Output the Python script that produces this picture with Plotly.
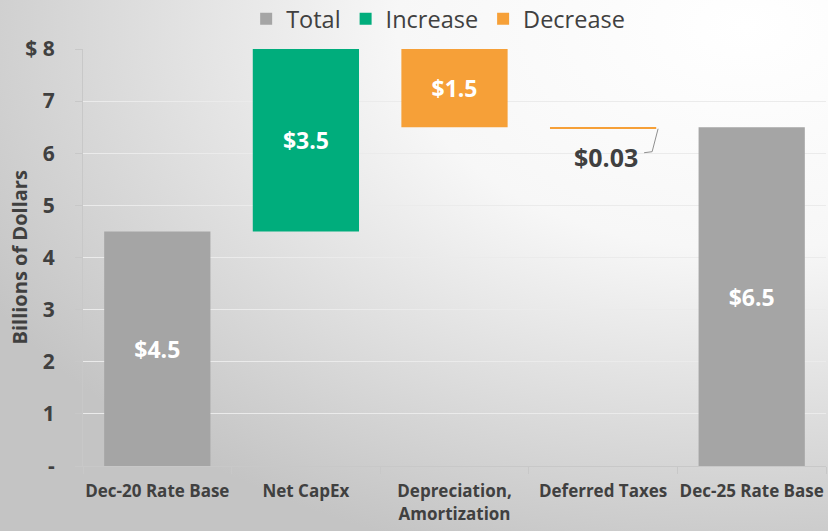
import base64
import plotly.graph_objects as go

# ---- data ----
categories = ["Dec-20 Rate Base", "Net CapEx", "Depreciation,<br>Amortization", "Deferred Taxes", "Dec-25 Rate Base"]
measures = ["total", "increase", "decrease", "decrease", "total"]
values = [4.5, 3.5, -1.5, -0.03, 6.5]
y_tickvals = [0, 1, 2, 3, 4, 5, 6, 7, 8]
y_ticktext = ["-", "1", "2", "3", "4", "5", "6", "7", "$ 8"]

GRAY = "#A5A5A5"
GREEN = "#00AD7C"
ORANGE = "#F6A038"
TEXT = "#404040"
FONT = "Open Sans"

# compute bases (waterfall running totals)
bases, running = [], 0.0
for m, v in zip(measures, values):
    if m == "total":
        bases.append(0.0)
        running = v
    else:
        bases.append(running)
        running += v

def pick(kind):
    idx = [i for i, m in enumerate(measures) if m == kind]
    return ([categories[i] for i in idx], [values[i] for i in idx], [bases[i] for i in idx])

fig = go.Figure()
for kind, name, color in [("total", "Total", GRAY), ("increase", "Increase", GREEN), ("decrease", "Decrease", ORANGE)]:
    xs, ys, bs = pick(kind)
    texts = [f"${abs(v):g}" if abs(v) >= 0.1 else "" for v in ys]
    fig.add_trace(go.Bar(
        x=xs, y=ys, base=bs, name=name, marker=dict(color=color, line=dict(width=0)),
        width=0.715, text=texts, textposition="inside", insidetextanchor="middle",
        textfont=dict(family=FONT, size=23, color="white", weight="bold"),
        hoverinfo="skip",
    ))

L, R, T, B = 83, 2, 49, 65
pw, ph = 828 - L - R, 531 - T - B

# small label with leader line
small_i = 3
small_top = bases[small_i] + values[small_i]
fig.add_annotation(x=small_i + 0.25, y=5.93, xref="x", yref="y", text=f"<b>${abs(values[small_i]):g}</b>",
                   showarrow=False, xanchor="right", yanchor="middle",
                   font=dict(family=FONT, size=25, color=TEXT))
fig.add_shape(type="line", x0=small_i + 0.276, x1=small_i + 0.33, y0=6.01, y1=6.03, xref="x", yref="y",
              line=dict(color="#8f8f8f", width=1))
fig.add_shape(type="line", x0=small_i + 0.33, x1=small_i + 0.37, y0=6.03, y1=small_top, xref="x", yref="y",
              line=dict(color="#8f8f8f", width=1))

# y axis title
fig.add_annotation(x=(19 - L) / pw, y=0.5, xref="paper", yref="paper", text="<b>Billions of Dollars</b>",
                   textangle=-90, showarrow=False, xanchor="center", yanchor="middle",
                   font=dict(family=FONT, size=20, color=TEXT))

# gradient background
svg = ('<svg xmlns="http://www.w3.org/2000/svg" width="828" height="531" preserveAspectRatio="none">'
       '<defs><radialGradient id="g" cx="0.9" cy="0.05" r="1.05" fx="0.9" fy="0.05">'
       '<stop offset="0" stop-color="#ffffff"/><stop offset="0.4" stop-color="#f7f7f7"/>'
       '<stop offset="1" stop-color="#c4c4c4"/></radialGradient></defs>'
       '<rect width="828" height="531" fill="url(#g)"/></svg>')
uri = "data:image/svg+xml;base64," + base64.b64encode(svg.encode()).decode()

fig.add_layout_image(dict(source=uri, xref="paper", yref="paper", x=-L / pw, y=1 + T / ph,
                          sizex=828 / pw, sizey=531 / ph, sizing="stretch", layer="below",
                          xanchor="left", yanchor="top"))

fig.update_layout(
    width=828, height=531,
    margin=dict(l=L, r=R, t=T, b=B, autoexpand=False),
    paper_bgcolor="white", plot_bgcolor="rgba(0,0,0,0)",
    barmode="overlay",
    font=dict(family=FONT, color=TEXT),
    legend=dict(orientation="h", x=0.478, xanchor="center", y=1.072, yanchor="middle",
                font=dict(family=FONT, size=23.5, color=TEXT), bgcolor="rgba(0,0,0,0)",
                itemclick=False, traceorder="normal"),
    showlegend=True,
)
fig.update_xaxes(
    categoryorder="array", categoryarray=categories, automargin=False,
    showgrid=False, showline=True, linecolor="#c8c8c8", linewidth=1,
    ticks="outside", tickson="boundaries", ticklen=7, tickcolor="#c8c8c8",
    tickfont=dict(family=FONT, size=17, color=TEXT, weight="bold"),
    tickangle=0, ticklabelstandoff=10,
)
fig.update_yaxes(
    range=[0, 8], tickvals=y_tickvals, ticktext=y_ticktext, automargin=False,
    showgrid=True, gridcolor="#ebebeb", gridwidth=1, zeroline=False,
    showline=True, linecolor="#c8c8c8", linewidth=1,
    ticks="outside", ticklen=7, tickcolor="#c8c8c8",
    tickfont=dict(family=FONT, size=21, color=TEXT, weight="bold"),
    ticklabelstandoff=16,
)

fig.write_html("out.html", config={"displayModeBar": False},
               post_script="document.body.style.margin='0';")
